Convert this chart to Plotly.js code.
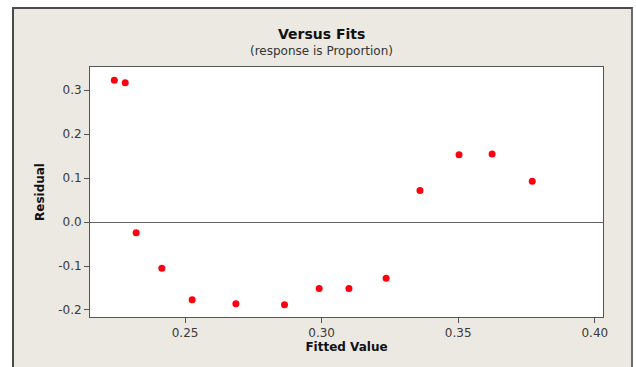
<!DOCTYPE html>
<html>
<head>
<meta charset="utf-8">
<script src="https://cdn.plot.ly/plotly-3.0.1.min.js"></script>
<style>
  html, body { margin: 0; padding: 0; background: #ffffff; width: 636px; height: 367px; overflow: hidden; }
  #frame { position: absolute; left: 12px; top: 7px; width: 617px; height: 362px;
           border-left: 2px solid #4a4a4a; border-top: 2px solid #4a4a4a; border-right: 2px solid #6a6a6a;
           background: #ece9e2; overflow: hidden; }
  #chart { width: 617px; height: 358px; }
</style>
</head>
<body>
<div id="frame"><div id="chart"></div></div>
<script>
const fittedValues = [0.2241, 0.2281, 0.2321, 0.2415, 0.2526, 0.2686, 0.2864, 0.2991, 0.3100, 0.3236, 0.3360, 0.3503, 0.3624, 0.3771];
const residuals    = [0.323, 0.317, -0.024, -0.105, -0.177, -0.186, -0.188, -0.151, -0.151, -0.128, 0.072, 0.153, 0.155, 0.093];
const xTicks = [0.25, 0.30, 0.35, 0.40];
const xTickLabels = ['0.25', '0.30', '0.35', '0.40'];
const yTicks = [-0.2, -0.1, 0.0, 0.1, 0.2, 0.3];
const yTickLabels = ['-0.2', '-0.1', '0.0', '0.1', '0.2', '0.3'];
const chartTitle = 'Versus Fits';
const chartSubtitle = '(response is Proportion)';
const xLabel = 'Fitted Value';
const yLabel = 'Residual';

const font = 'DejaVu Sans, Verdana, sans-serif';

const trace = {
  x: fittedValues, y: residuals, type: 'scatter', mode: 'markers',
  marker: { color: '#ff0010', size: 7 }, hoverinfo: 'x+y'
};

const layout = {
  width: 617, height: 358,
  margin: { l: 76, r: 28.3, t: 57.7, b: 49.7 },
  paper_bgcolor: '#ece9e2', plot_bgcolor: '#ffffff',
  showlegend: false,
  font: { family: font, size: 12, color: '#3a3a3a' },
  xaxis: {
    range: [0.2152, 0.403], tickvals: xTicks, ticktext: xTickLabels,
    ticks: 'outside', ticklen: 5, tickcolor: '#555', tickwidth: 1,
    showline: true, linecolor: '#555', linewidth: 1, mirror: true,
    showgrid: false, zeroline: false,
    tickfont: { family: font, size: 12, color: '#3a3a3a' },
    title: { text: '<b>' + xLabel + '</b>', font: { family: font, size: 12, color: '#111' }, standoff: 2 }
  },
  yaxis: {
    range: [-0.216, 0.353], tickvals: yTicks, ticktext: yTickLabels,
    ticks: 'outside', ticklen: 5, tickcolor: '#555', tickwidth: 1,
    showline: true, linecolor: '#555', linewidth: 1, mirror: true,
    showgrid: false, zeroline: true, zerolinecolor: '#666', zerolinewidth: 1,
    tickfont: { family: font, size: 12, color: '#3a3a3a' },
    title: { text: '<b>' + yLabel + '</b>', font: { family: font, size: 12, color: '#111' }, standoff: 10 }
  },
  annotations: [
    { text: '<b>' + chartTitle + '</b>', xref: 'paper', yref: 'paper', x: 0.452, y: 1.1305,
      xanchor: 'center', yanchor: 'middle', showarrow: false, font: { family: font, size: 14, color: '#111' } },
    { text: chartSubtitle, xref: 'paper', yref: 'paper', x: 0.452, y: 1.0626,
      xanchor: 'center', yanchor: 'middle', showarrow: false, font: { family: font, size: 12, color: '#333' } }
  ]
};

Plotly.newPlot('chart', [trace], layout, { staticPlot: true, displayModeBar: false });
</script>
</body>
</html>
